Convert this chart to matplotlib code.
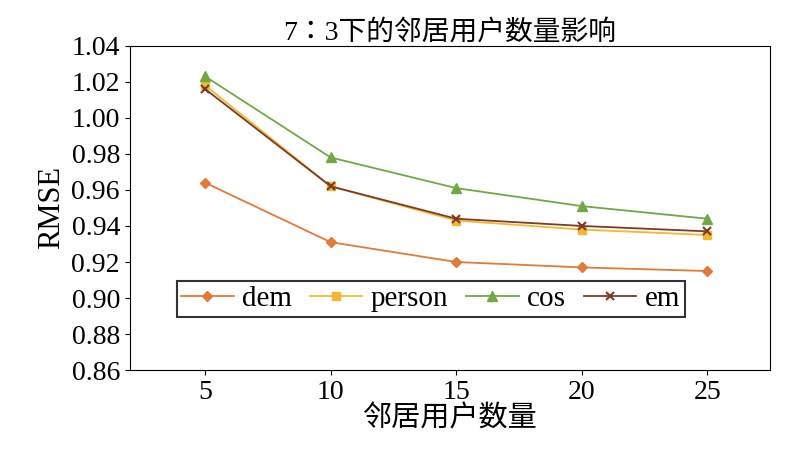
import matplotlib
matplotlib.use("Agg")
import matplotlib.pyplot as plt

x = [5, 10, 15, 20, 25]
dem = [0.964, 0.931, 0.920, 0.917, 0.915]
person = [1.018, 0.962, 0.943, 0.938, 0.935]
cos = [1.023, 0.978, 0.961, 0.951, 0.944]
em = [1.016, 0.962, 0.944, 0.940, 0.937]
yticks = [0.86, 0.88, 0.90, 0.92, 0.94, 0.96, 0.98, 1.00, 1.02, 1.04]

plt.rcParams["font.family"] = ["Liberation Serif", "Noto Sans CJK SC", "Noto Sans CJK JP",
                               "Noto Sans CJK TC", "Noto Sans CJK KR"]

fig = plt.figure(figsize=(7.86, 4.57), dpi=100)
ax = fig.add_axes([0.165, 0.19, 0.815, 0.71])
ax.plot(x, dem, color="#E07B39", marker="D", ms=5, lw=1.3, label="dem")
ax.plot(x, person, color="#F5B731", marker="s", ms=6, lw=1.3, label="person")
ax.plot(x, cos, color="#70A845", marker="^", ms=7, lw=1.3, label="cos")
ax.plot(x, em, color="#7B3B24", marker="x", ms=6, mew=1.5, lw=1.3, label="em")
ax.set_xlim(2, 27.5)
ax.set_ylim(0.86, 1.04)
ax.set_xticks(x)
ax.set_yticks(yticks)
ax.set_yticklabels([f"{v:.2f}" for v in yticks])
ax.tick_params(labelsize=20, direction="out")
ax.set_ylabel("RMSE", fontsize=22)
ax.set_xlabel("邻居用户数量", fontsize=21, labelpad=0)
ax.set_title("7：3下的邻居用户数量影响", fontsize=20, pad=2)
leg = ax.legend(loc="lower center", bbox_to_anchor=(0.47, 0.12), ncol=4, fontsize=21,
                frameon=True, fancybox=False, edgecolor="black", handlelength=1.8,
                columnspacing=0.6, handletextpad=0.3, borderpad=0.15)
leg.get_frame().set_linewidth(1.5)
fig.savefig("out.png", dpi=100)
